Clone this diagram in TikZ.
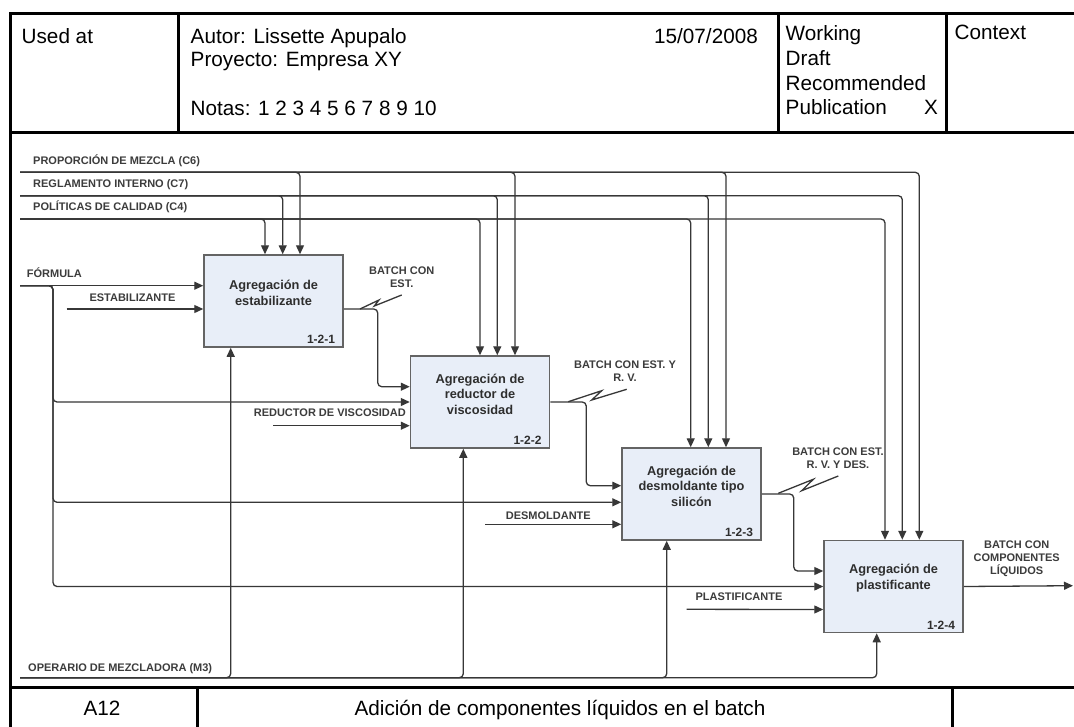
\documentclass[tikz,border=0pt]{standalone}
\usepackage{fontspec}
\setmainfont{Liberation Sans}
\usetikzlibrary{arrows.meta}
\definecolor{boxfill}{RGB}{232,238,248}
\definecolor{boxline}{RGB}{100,100,100}
\definecolor{wirecol}{RGB}{55,55,55}
\definecolor{labcol}{RGB}{60,60,60}

\begin{document}
\begin{tikzpicture}[x=1pt,y=-1pt,
  frame/.style={line width=3pt,black},
  head/.style={font=\fontsize{20.7}{24.7}\selectfont, inner sep=0pt},
  box/.style={draw=boxline, line width=1.5pt, fill=boxfill,
    minimum width=139pt, minimum height=92pt, inner sep=0pt},
  boxtxt/.style={font=\fontsize{12.8}{15.5}\selectfont\bfseries,
    text=black!82, align=center, inner sep=0pt},
  num/.style={font=\fontsize{12}{14}\selectfont\bfseries, text=black!82, inner sep=0pt},
  lab/.style={font=\fontsize{11}{13}\selectfont\bfseries, text=labcol,
    inner sep=0pt, align=center},
  wire/.style={draw=wirecol, line width=1.3pt, rounded corners=4pt},
  arr/.style={wire, -{Triangle[length=9pt,width=8pt]}},
]
\useasboundingbox (0,0) rectangle (1074,726);
\fill[white] (0,0) rectangle (1074,726);

% ---------- sheet frame ----------
\draw[frame] (10,13) rectangle (1090,740);
\draw[frame] (10,132.5) -- (1090,132.5);
\draw[frame] (10,687.5) -- (1090,687.5);
\draw[frame] (178,13) -- (178,132.5);
\draw[frame] (778,13) -- (778,132.5);
\draw[frame] (946,13) -- (946,132.5);
\draw[frame] (197,687.5) -- (197,740);
\draw[frame] (952,687.5) -- (952,740);

% ---------- header ----------
\node[head, anchor=base west] (usedat) at (21.5,43) {Used at};
\node[head, anchor=base west] (autor) at (190.5,43) {Autor: Lissette Apupalo};
\node[head, anchor=base west] (proy) at (190.5,66.5) {Proyecto: Empresa XY};
\node[head, anchor=base west] (notas) at (190.5,115) {Notas: 1 2 3 4 5 6 7 8 9 10};
\node[head, anchor=base east] (fecha) at (758,43) {15/07/2008};
\node[head, anchor=base west] (st1) at (785.5,40) {Working};
\node[head, anchor=base west] (st2) at (785.5,65) {Draft};
\node[head, anchor=base west] (st3) at (785.5,90) {Recommended};
\node[head, anchor=base west] (st4) at (785.5,114.5) {Publication};
\node[head, anchor=base east] (stx) at (938,114.5) {X};
\node[head, anchor=base west] (ctx) at (954.5,39.5) {Context};

% ---------- footer ----------
\node[head, anchor=base] (nodeid) at (102,715) {A12};
\node[head, anchor=base] (title) at (560,715) {Adición de componentes líquidos en el batch};

% ---------- activity boxes ----------
\node[box] (b1) at (273.5,301) {};
\node[box] (b2) at (480,402) {};
\node[box] (b3) at (691.5,494) {};
\node[box] (b4) at (893.5,586.5) {};

\node[boxtxt] (b1t) at ([yshift=8pt]b1.center) {Agregación de\\estabilizante};
\node[boxtxt] (b2t) at ([yshift=8pt]b2.center) {Agregación de\\reductor de\\viscosidad};
\node[boxtxt] (b3t) at ([yshift=8pt]b3.center) {Agregación de\\desmoldante tipo\\silicón};
\node[boxtxt] (b4t) at ([yshift=8.5pt]b4.center) {Agregación de\\plastificante};

\node[num, anchor=base east] (n1) at ([xshift=-8.5pt,yshift=4pt]b1.south east) {1-2-1};
\node[num, anchor=base east] (n2) at ([xshift=-8.5pt,yshift=4pt]b2.south east) {1-2-2};
\node[num, anchor=base east] (n3) at ([xshift=-8.5pt,yshift=4pt]b3.south east) {1-2-3};
\node[num, anchor=base east] (n4) at ([xshift=-8.5pt,yshift=4pt]b4.south east) {1-2-4};

% ---------- boundary ends ----------
\coordinate (c6) at (20,172.3);
\coordinate (c7) at (20,195.7);
\coordinate (c4) at (20,219);
\coordinate (formula) at (20,285.7);
\coordinate (estab) at (66.7,309);
\coordinate (reduc) at (273.3,425.7);
\coordinate (desmol) at (485,524.3);
\coordinate (plast) at (686.7,609.3);
\coordinate (m3) at (20,677.7);
\coordinate (out) at (1073,585.7);

% ---------- controls ----------
\draw[arr] (c6) -| ([xshift=26.5pt]b1.north);
\draw[arr] (c6) -| ([xshift=35pt]b2.north);
\draw[arr] (c6) -| ([xshift=34.5pt]b3.north);
\draw[arr] (c6) -| ([xshift=25.8pt]b4.north);
\draw[arr] (c7) -| ([xshift=9.2pt]b1.north);
\draw[arr] (c7) -| ([xshift=17.3pt]b2.north);
\draw[arr] (c7) -| ([xshift=16.8pt]b3.north);
\draw[arr] (c7) -| ([xshift=8.8pt]b4.north);
\draw[arr] (c4) -| ([xshift=-8.5pt]b1.north);
\draw[arr] (c4) -| ([xshift=0pt]b2.north);
\draw[arr] (c4) -| ([xshift=-0.8pt]b3.north);
\draw[arr] (c4) -| ([xshift=-8.5pt]b4.north);

\node[lab, anchor=base west] (lc6) at (33,164.7) {PROPORCIÓN DE MEZCLA (C6)};
\node[lab, anchor=base west] (lc7) at (33,187.2) {REGLAMENTO INTERNO (C7)};
\node[lab, anchor=base west] (lc4) at (33,210.7) {POLÍTICAS DE CALIDAD (C4)};

% ---------- inputs ----------
\draw[arr] (formula) -- ([yshift=15.3pt]b1.west);
\draw[arr] (formula) -- ++(33,0) |- (b2.west);
\draw[arr] (formula) -- ++(33,0) |- ([yshift=-8.3pt]b3.west);
\draw[arr] (formula) -- ++(33,0) |- (b4.west);
\draw[arr] (estab) -- ([yshift=-8pt]b1.west);
\draw[arr] (reduc) -- ([yshift=-23.7pt]b2.west);
\draw[arr] (desmol) -- ([yshift=-30.3pt]b3.west);
\draw[arr] (plast) -- ([yshift=-23pt]b4.west);

\node[lab, anchor=base west] (lform) at (26.7,277) {FÓRMULA};
\node[lab, anchor=base] (lestab) at (132.5,301) {ESTABILIZANTE};
\node[lab, anchor=base east] (lreduc) at (406,416.7) {REDUCTOR DE VISCOSIDAD};
\node[lab, anchor=base] (ldesmol) at (548.3,519) {DESMOLDANTE};
\node[lab, anchor=base] (lplast) at (739,600.7) {PLASTIFICANTE};

% ---------- outputs between activities ----------
\draw[arr] ([yshift=-8pt]b1.east) -- ++(34,0) |- ([yshift=15.3pt]b2.west);
\draw[arr] (b2.east) -- ++(36,0) |- ([yshift=8.3pt]b3.west);
\draw[arr] (b3.east) -- ++(32,0) |- ([yshift=15.5pt]b4.west);
\draw[arr] (b4.east) -- (out);

\node[lab] (lo1) at (401.7,277.3) {BATCH CON\\EST.};
\node[lab] (lo2) at (625,371) {BATCH CON EST. Y\\R. V.};
\node[lab] (lo3) at (838,458) {BATCH CON EST.\\R. V. Y DES.};
\node[lab] (lo4) at (1016.7,558.5) {BATCH CON\\COMPONENTES\\LÍQUIDOS};

% squiggles tying labels to their arrows
\coordinate (s1a) at (360,309);   \coordinate (s1b) at (401.7,295);
\coordinate (s2a) at (568.3,401.7); \coordinate (s2b) at (626.7,389.3);
\coordinate (s3a) at (778.3,493.3); \coordinate (s3b) at (838.3,476);
\draw[wire, rounded corners=0pt] (s1a) -- (379,300) -- (374.3,306) -- (s1b);
\draw[wire, rounded corners=0pt] (s2a) -- (601.7,390.7) -- (591.7,400) -- (s2b);
\draw[wire, rounded corners=0pt] (s3a) -- (813.3,479.3) -- (801.7,490.7) -- (s3b);

% ---------- mechanism ----------
\draw[arr] (m3) -| ([xshift=-42.8pt]b1.south);
\draw[arr] (m3) -| ([xshift=-16.7pt]b2.south);
\draw[arr] (m3) -| ([xshift=-24.8pt]b3.south);
\draw[arr] (m3) -| ([xshift=-16.8pt]b4.south);
\node[lab, anchor=base west] (lm3) at (28,671.7) {OPERARIO DE MEZCLADORA (M3)};
\end{tikzpicture}
\end{document}
